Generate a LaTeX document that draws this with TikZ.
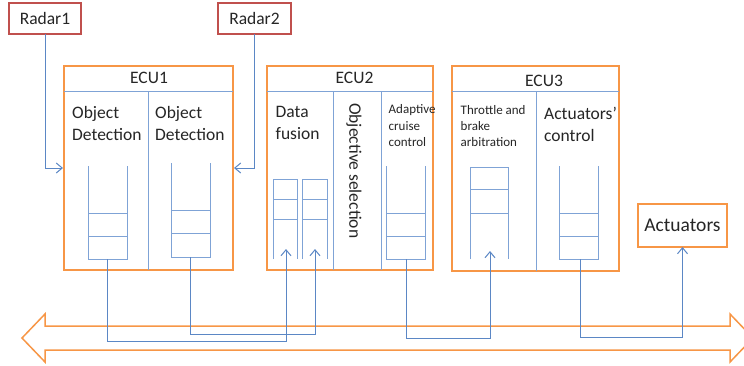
\documentclass[tikz,border=0pt]{standalone}
\usepackage{fontspec}
\setmainfont{Carlito}
\usetikzlibrary{arrows.meta}
\definecolor{ecuorange}{HTML}{F79646}
\definecolor{radarred}{HTML}{C0504D}
\definecolor{linkblue}{HTML}{5B87C5}
\definecolor{stackblue}{HTML}{7FA3D6}
\tikzset{
  ecubox/.style={draw=ecuorange, line width=2pt, fill=white, inner sep=0pt, outer sep=0pt},
  radarbox/.style={draw=radarred, line width=2pt, fill=white, inner sep=0pt, outer sep=0pt, text=black!85, font=\fontsize{17.5}{21}\selectfont},
  divider/.style={draw=stackblue, line width=1pt},
  queueline/.style={draw=stackblue, line width=1pt},
  link/.style={draw=linkblue, line width=1pt, -{Straight Barb[length=6pt,width=10pt]}},
  bigtext/.style={text=black!85, inner sep=0pt, anchor=north west, align=left, font=\fontsize{17.5}{22}\selectfont},
  smalltext/.style={text=black!85, inner sep=0pt, anchor=north west, align=left, font=\fontsize{13}{16.3}\selectfont},
  ecutitle/.style={text=black!85, inner sep=0pt, font=\fontsize{17.5}{21}\selectfont}
}

\begin{document}
\begin{tikzpicture}[x=1pt,y=-1pt]
			\useasboundingbox (0,0) rectangle (744,365);
			\clip (0,0) rectangle (744,365);
			%%%%% BUS %%%%%
			\draw[ecuorange, line width=1.5pt, fill=white] (22,338) -- (45,314) -- (45,326) -- (730,326) -- (730,314) -- (753,338)
				-- (730,362) -- (730,350) -- (45,350) -- (45,362) -- cycle;
			
			%%%%% SENSORS %%%%%
			\node[radarbox, minimum width=72pt, minimum height=31pt] (radar1) at (45,18.5) {Radar1};
			\node[radarbox, minimum width=73pt, minimum height=31pt] (radar2) at (254.5,18.5) {Radar2};
			
			%%%%% ECU BOXES %%%%%
			\node[ecubox, minimum width=169pt, minimum height=204pt] (ecu1) at (148.5,168) {};
			\node[ecubox, minimum width=166pt, minimum height=204pt] (ecu2) at (350,168) {};
			\node[ecubox, minimum width=167pt, minimum height=205pt] (ecu3) at (535.5,168.5) {};
			\node[ecubox, minimum width=89pt, minimum height=43pt, text=black!85, font=\fontsize{19.5}{23}\selectfont] (actuators) at (682.5,225.5) {Actuators};
			
			\draw[divider] (64,91) -- (233,91) (148,91) -- (148,270);
			\draw[divider] (267,91) -- (433,91) (333,91) -- (333,270) (381,91) -- (381,270);
			\draw[divider] (452,91) -- (619,91) (536,91) -- (536,271);
			
			\node[ecutitle] (ecu1title) at (149,78) {ECU1};
			\node[ecutitle] (ecu2title) at (354.5,78) {ECU2};
			\node[ecutitle] (ecu3title) at (544,81) {ECU3};
			
			\node[bigtext] (objdet1) at (72,106) {Object\\Detection};
			\node[bigtext] (objdet2) at (155,106) {Object\\Detection};
			\node[bigtext] (fusion) at (275.5,106.5) {Data\\fusion};
			\node[bigtext, rotate=-90, anchor=west] (objsel) at (354,103) {Objective selection};
			\node[smalltext] (acc) at (388.5,104.5) {Adaptive\\cruise\\control};
			\node[smalltext] (arbit) at (460.5,105) {Throttle and\\brake\\arbitration};
			\node[bigtext] (actctrl) at (544,106.5) {Actuators’\\control};
			
			%%%%% QUEUES %%%%%
			\draw[queueline] (88,166) -- (88,259) -- (127,259) -- (127,166);
			\draw[queueline] (88,213) -- (127,213) (88,236) -- (127,236);
			\draw[queueline] (171,163) -- (171,257) -- (210,257) -- (210,163);
			\draw[queueline] (171,210) -- (210,210) (171,233) -- (210,233);
			
			\draw[queueline] (273,259) -- (273,179) -- (297,179) -- (297,259);
			\draw[queueline] (273,199) -- (297,199) (273,219) -- (297,219);
			\draw[queueline] (302,259) -- (302,179) -- (327,179) -- (327,259);
			\draw[queueline] (302,199) -- (327,199) (302,219) -- (327,219);
			
			\draw[queueline] (386,166) -- (386,259) -- (425,259) -- (425,166);
			\draw[queueline] (386,213) -- (425,213) (386,236) -- (425,236);
			
			\draw[queueline] (470,259) -- (470,167) -- (508,167) -- (508,259);
			\draw[queueline] (470,189) -- (508,189) (470,213) -- (508,213);
			\draw[queueline] (559,166) -- (559,259) -- (598,259) -- (598,166);
			\draw[queueline] (559,213) -- (598,213) (559,236) -- (598,236);
			
			%%%%% LINKS %%%%%
			\coordinate (ecu1left) at (63,168);
			\coordinate (ecu1right) at (234,168);
			\coordinate (od1out) at (107.5,259);
			\coordinate (od2out) at (190.5,257);
			\coordinate (fuse1in) at (286,249);
			\coordinate (fuse2in) at (315,249);
			\coordinate (accout) at (406,259);
			\coordinate (arbin) at (490,251);
			\coordinate (ctrlout) at (580,259);
			
			\draw[link] (radar1.south) |- (ecu1left);
			\draw[link] (radar2.south) |- (ecu1right);
			\draw[link] (od1out) -- ++(0,82) -| (fuse1in);
			\draw[link] (od2out) -- ++(0,77) -| (fuse2in);
			\draw[link] (accout) -- ++(0,79) -| (arbin);
			\draw[link] (ctrlout) -- ++(0,78) -| (actuators.south);
		\end{tikzpicture}
\end{document}
